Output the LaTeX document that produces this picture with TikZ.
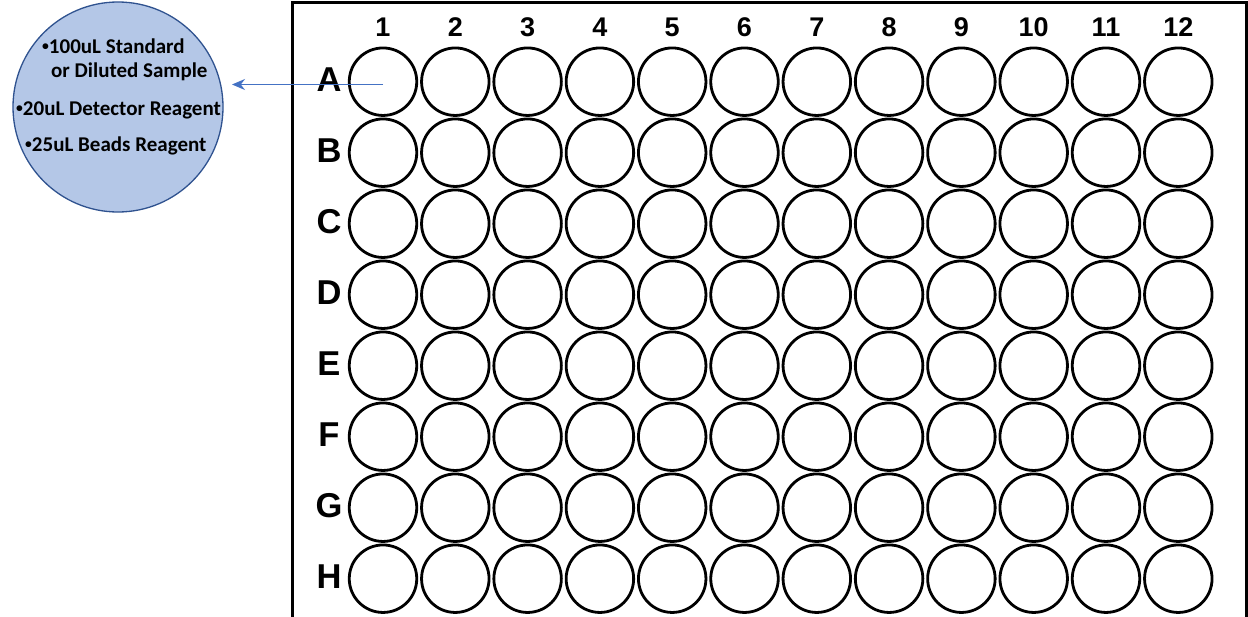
\documentclass[tikz,border=0pt]{standalone}
\usepackage{fontspec}
\usepackage{graphicx}
\setmainfont{Liberation Sans}
\newfontfamily\calibri{Carlito}
\usetikzlibrary{arrows.meta}
\definecolor{bubblefill}{HTML}{B4C7E7}
\definecolor{bubbleedge}{HTML}{2F528F}
\definecolor{arrowblue}{HTML}{4472C4}
\newcommand{\smbul}{\raisebox{0.12em}{\scalebox{0.65}{•}}}
\begin{document}
\begin{tikzpicture}[x=1pt,y=-1pt,
  well/.style={circle,draw=black,line width=2.8pt,minimum size=67.5pt,inner sep=0pt},
  collab/.style={font=\fontsize{27}{27}\selectfont\bfseries,inner sep=0pt},
  rowlab/.style={font=\fontsize{34.5}{34.5}\selectfont\bfseries,inner sep=0pt},
  plate/.style={draw=black,line width=3pt},
  bubble/.style={circle,draw=bubbleedge,line width=1.3pt,fill=bubblefill,minimum size=210pt,inner sep=0pt},
  btext/.style={font=\calibri\fontsize{21}{21}\selectfont\bfseries,anchor=base west,inner sep=0pt},
  pointer/.style={draw=arrowblue,line width=1.2pt,-{Stealth[length=13pt,width=11pt]}}
]
\useasboundingbox (0,0) rectangle (1248,616);
\fill[white] (0,0) rectangle (1248,616);
% plate
\draw[plate] (292.5,2) rectangle (1246,640);
% wells and labels
\foreach \c in {1,...,12}{
  \node[collab] (col-\c) at ({383+72.3*(\c-1)},27) {\c};
}
\foreach \r/\L [count=\i from 0] in {1/A,2/B,3/C,4/D,5/E,6/F,7/G,8/H}{
  \node[rowlab] (row-\L) at (329,{79.5+71*\i}) {\L};
  \foreach \c in {1,...,12}{
    \node[well] (w-\L-\c) at ({383+72.3*(\c-1)},{81.7+71*\i}) {};
  }
}
% bubble
\node[bubble] (bub) at (118,107) {};
\node[btext] (t1) at (42,53) {\smbul100uL Standard};
\node[btext] (t2) at (51,77) {or Diluted Sample};
\node[btext] (t3) at (16,115) {\smbul20uL Detector Reagent};
\node[btext] (t4) at (25,151.5) {\smbul25uL Beads Reagent};
% arrow
\coordinate (tip) at (232,84.5);
\draw[pointer] ([yshift=-2.8pt]w-A-1.center) -- (tip);
\end{tikzpicture}
\end{document}
